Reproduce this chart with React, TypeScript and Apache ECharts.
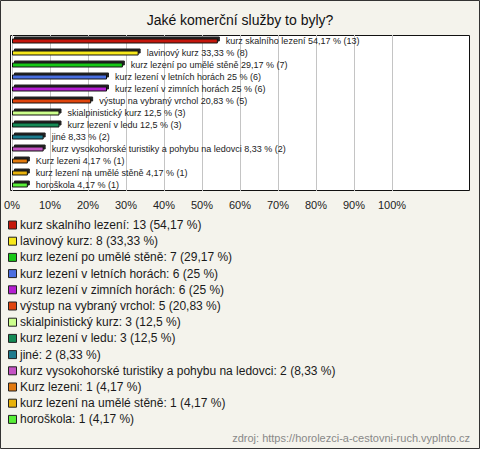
import React, { useEffect, useRef } from "react";
import * as echarts from "echarts";

const categories = [
  "kurz skalního lezení",
  "lavinový kurz",
  "kurz lezení po umělé stěně",
  "kurz lezení v letních horách",
  "kurz lezení v zimních horách",
  "výstup na vybraný vrchol",
  "skialpinistický kurz",
  "kurz lezení v ledu",
  "jiné",
  "kurz vysokohorské turistiky a pohybu na ledovci",
  "Kurz lezeni",
  "kurz lezení na umělé stěně",
  "horoškola",
];
const counts = [13, 8, 7, 6, 6, 5, 3, 3, 2, 2, 1, 1, 1];
const percents = [54.17, 33.33, 29.17, 25, 25, 20.83, 12.5, 12.5, 8.33, 8.33, 4.17, 4.17, 4.17];
const colors = [
  "#c4180c", "#f7e81c", "#18c818", "#4a6ee0", "#b41ed2", "#e0440e", "#ccff8c",
  "#138a55", "#1f7b8e", "#c452c4", "#e27a10", "#e8b20a", "#58ee38",
];
const tickValues = [0, 10, 20, 30, 40, 50, 60, 70, 80, 90, 100];
const title = "Jaké komerční služby to byly?";
const source = "zdroj: https://horolezci-a-cestovni-ruch.vyplnto.cz";

const FONT = "'Liberation Sans', Arial, sans-serif";
const fmt = (v: number) => String(v).replace(".", ",");

export default function App() {
  const ref = useRef<HTMLDivElement>(null);
  useEffect(() => {
    document.body.style.margin = "0";
    const chart = echarts.init(ref.current!, null, { renderer: "svg" });
    const legendTop = 225;
    const legendStep = 16.2;
    const legendEls: any[] = [];
    categories.forEach((c, i) => {
      const y = legendTop + i * legendStep;
      legendEls.push({
        type: "rect",
        shape: { x: 8.5, y: y - 4, width: 8, height: 8 },
        style: { fill: colors[i], stroke: "#222", lineWidth: 1 },
      });
      legendEls.push({
        type: "text",
        x: 20,
        y,
        style: {
          text: `${c}: ${counts[i]} (${fmt(percents[i])} %)`,
          fontSize: 12,
          fontFamily: FONT,
          fill: "#1a1a1a",
          verticalAlign: "middle",
          align: "left",
        },
      });
    });
    chart.setOption({
      animation: false,
      backgroundColor: "#f4f3ec",
      textStyle: { fontFamily: FONT },
      grid: { left: 12, top: 35, width: 380, height: 156, containLabel: false },
      xAxis: {
        type: "value",
        min: 0,
        max: 100,
        interval: 10,
        axisLine: { show: false },
        axisTick: { show: false },
        axisLabel: {
          formatter: (v: number) => (tickValues.includes(v) ? `${v}%` : ""),
          fontSize: 11,
          color: "#222",
          margin: 8,
          fontFamily: FONT,
        },
        splitLine: { show: true, lineStyle: { color: "#c4c4c4", width: 1 } },
      },
      yAxis: {
        type: "category",
        inverse: true,
        data: categories,
        show: false,
      },
      series: [
        {
          type: "bar",
          z: 5,
          barWidth: 5,
          data: percents.map((p, i) => ({
            value: p,
            itemStyle: {
              color: colors[i],
              borderColor: "#111",
              borderWidth: 1,
              shadowColor: "#222",
              shadowOffsetX: 2,
              shadowOffsetY: -2,
              shadowBlur: 0,
            },
          })),
          label: {
            show: true,
            position: "right",
            distance: 8,
            fontSize: 9,
            color: "#222",
            fontFamily: FONT,
            formatter: (p: any) =>
              `${categories[p.dataIndex]} ${fmt(percents[p.dataIndex])} % (${counts[p.dataIndex]})`,
          },
        },
      ],
      graphic: [
        {
          type: "rect",
          z: -10,
          shape: { x: 0.5, y: 0.5, width: 479, height: 448 },
          style: { fill: "#f4f3ec", stroke: "#333", lineWidth: 1 },
        },
        {
          type: "rect",
          z: -5,
          shape: { x: 10.5, y: 35.5, width: 459, height: 155 },
          style: { fill: "#ffffff", stroke: "#111", lineWidth: 1 },
        },
        {
          type: "text",
          x: 240,
          y: 20,
          style: {
            text: title,
            fontSize: 14,
            fontFamily: FONT,
            fill: "#111",
            align: "center",
            verticalAlign: "middle",
          },
        },
        {
          type: "text",
          x: 470,
          y: 438,
          style: {
            text: source,
            fontSize: 11,
            fontFamily: FONT,
            fill: "#888",
            align: "right",
            verticalAlign: "middle",
          },
        },
        ...legendEls,
      ],
    });
    return () => chart.dispose();
  }, []);
  return <div ref={ref} style={{ width: 480, height: 449 }} />;
}
